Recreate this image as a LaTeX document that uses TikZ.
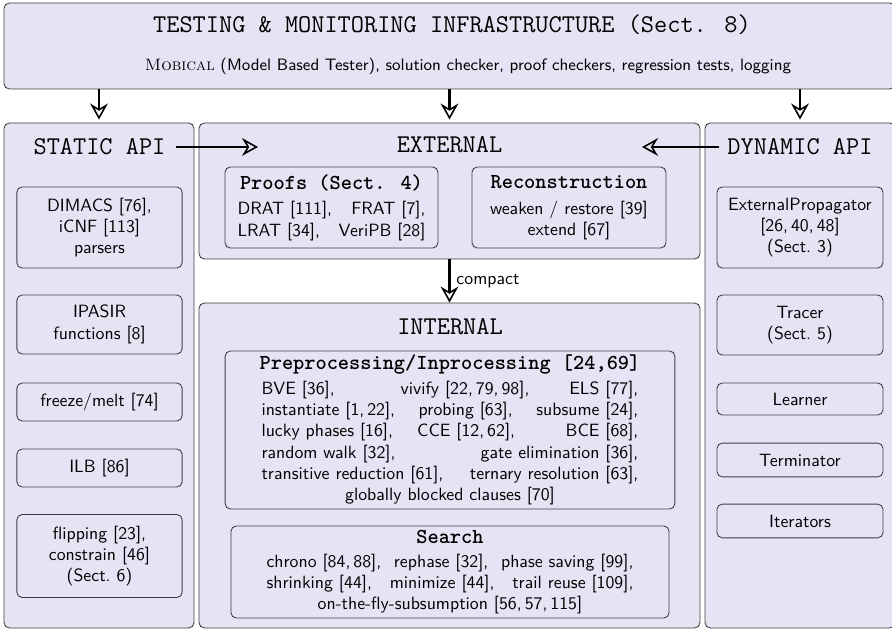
\documentclass[tikz,border=0pt]{standalone}
\usetikzlibrary{arrows.meta,fit}

\definecolor{panelfill}{RGB}{228,228,245}

\tikzset{
	panel/.style={draw=black!75, line width=0.5pt, fill=panelfill, rounded corners=3pt, inner sep=0pt},
	item/.style={draw=black!75, line width=0.5pt, fill=panelfill, rounded corners=3pt,
		align=center, font=\sffamily, inner sep=0pt},
	heading/.style={font=\Large\ttfamily},
	feed/.style={line width=1.2pt, -{Stealth[open, length=9pt, width=10pt, inset=3pt, line width=0.9pt]}},
}

\newcommand{\subhead}[1]{{\large\ttfamily\bfseries #1}}
\newcommand{\spreadrow}[2]{\makebox[#1][l]{#2}}

\begin{document}
\begin{tikzpicture}[x=0.5625pt, y=-0.5625pt]

	\useasboundingbox (0,0) rectangle (892,630);

	% testing layer on top
	\node[panel, fit={(4,3) (895,89)}] (infra) {};
	\node[heading] (infratitle) at (452,25) {TESTING \& MONITORING INFRASTRUCTURE (Sect. 8)};
	\node[font=\sffamily\fontsize{9.3pt}{11pt}\selectfont] (infratext) at (468,66)
		{\textrm{\textsc{Mobical}} (Model Based Tester), solution checker, proof checkers, regression tests, logging};

	% the four panels
	\node[panel, fit={(4,123) (194,628)}] (static) {};
	\node[panel, fit={(199,123) (700,259)}] (external) {};
	\node[panel, fit={(199,303) (700,628)}] (internal) {};
	\node[panel, fit={(705,123) (895,628)}] (dynamic) {};

	\node[heading] (statictitle) at (99.5,147) {STATIC API};
	\node[heading] (exttitle) at (449.5,145) {EXTERNAL};
	\node[heading] (inttitle) at (450,327) {INTERNAL};
	\node[heading] (dyntitle) at (800,147) {DYNAMIC API};

	% static api
	\node[item, minimum width=93pt, minimum height=45.6pt] (dimacs) at (99.5,227.5) {DIMACS [76],\\ iCNF [113]\\ parsers};
	\node[item, minimum width=93pt, minimum height=33.2pt] (ipasir) at (99.5,324.5) {IPASIR\\ functions [8]};
	\node[item, minimum width=93pt, minimum height=21.4pt] (freeze) at (99.5,402) {freeze/melt [74]};
	\node[item, minimum width=93pt, minimum height=21.4pt] (ilb) at (99.5,468) {ILB [86]};
	\node[item, minimum width=93pt, minimum height=46.7pt] (flipping) at (99.5,556) {flipping [23],\\ constrain [46]\\ (Sect.~6)};

	% dynamic api
	\node[item, minimum width=93.4pt, minimum height=45.6pt] (extprop) at (800,227.5) {ExternalPropagator\\{}[26,\,40,\,48]\\ (Sect.~3)};
	\node[item, minimum width=93.4pt, minimum height=33.8pt] (tracer) at (800,325) {Tracer\\ (Sect.~5)};
	\node[item, minimum width=93.4pt, minimum height=18pt] (learner) at (800,399) {Learner};
	\node[item, minimum width=93.4pt, minimum height=19pt] (terminator) at (800,460) {Terminator};
	\node[item, minimum width=93.4pt, minimum height=19pt] (iterators) at (800,521) {Iterators};

	% external
	\node[item, minimum width=119.8pt, minimum height=45.6pt] (proofs) at (331.5,207.5)
		{\subhead{Proofs (Sect. 4)}\\[2.6pt]
		 \spreadrow{105.75pt}{DRAT [111],\hfill FRAT [7],}\\
		 \spreadrow{105.75pt}{LRAT [34],\hfill VeriPB [28]}};
	\node[item, minimum width=109.1pt, minimum height=45.6pt] (recon) at (569,207.5)
		{\subhead{Reconstruction}\\[2.6pt]
		 weaken / restore [39]\\
		 extend [67]};

	% internal
	\node[item, minimum width=253pt, minimum height=88.9pt] (preproc) at (450,430)
		{\subhead{Preprocessing/Inprocessing [24,69]}\\[2pt]
		 \spreadrow{212pt}{BVE [36],\hspace{\stretch{1.65}}vivify [22,\,79,\,98],\hfill ELS [77],}\\
		 \spreadrow{212pt}{instantiate [1,\,22],\hfill probing [63],\hfill subsume [24],}\\
		 \spreadrow{212pt}{lucky phases [16],\hfill CCE [12,\,62],\hspace{\stretch{2.1}}BCE [68],}\\
		 \spreadrow{212pt}{random walk [32],\hfill gate elimination [36],}\\
		 \spreadrow{212pt}{transitive reduction [61],\hfill ternary resolution [63],}\\
		 globally blocked clauses [70]};
	\node[item, minimum width=246.4pt, minimum height=51.8pt] (search) at (450,572)
		{\subhead{Search}\\[1.5pt]
		 \spreadrow{206.4pt}{chrono [84,\,88],\hfill rephase [32],\hfill phase saving [99],}\\
		 \spreadrow{206.4pt}{shrinking [44],\hfill minimize [44],\hfill trail reuse [109],}\\
		 on-the-fly-subsumption [56,\,57,\,115]};

	% arrows
	\draw[feed, shorten >=1.7pt] (infra.south -| static.north) -- (static.north);
	\draw[feed, shorten >=1.7pt] (infra.south -| external.north) -- (external.north);
	\draw[feed, shorten >=1.7pt] (infra.south -| dynamic.north) -- (dynamic.north);

	\coordinate (staticin) at (258,147);
	\coordinate (dynin) at (642,147);
	\draw[feed, shorten <=2.5pt] (statictitle.east) -- (staticin);
	\draw[feed, shorten <=1pt] (dyntitle.west) -- (dynin);

	\draw[feed] (external) -- node[right, font=\sffamily] (compactlabel) {compact} (internal);

\end{tikzpicture}
\end{document}
